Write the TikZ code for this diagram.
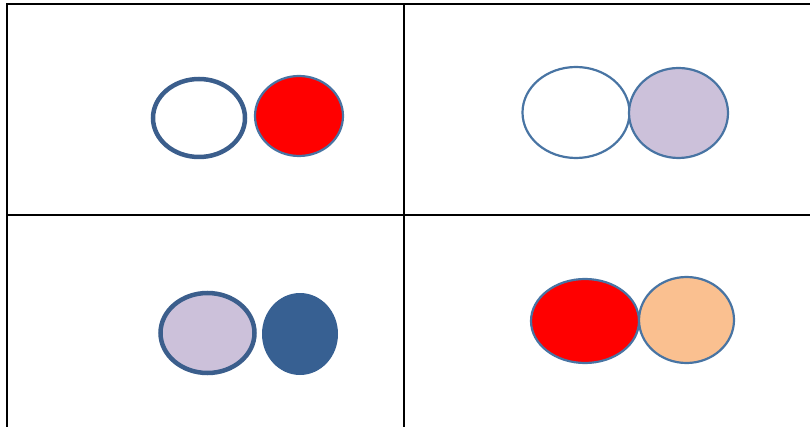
\documentclass[tikz,border=0pt]{standalone}
\usetikzlibrary{shapes.geometric}
\definecolor{rimblue}{HTML}{3B5E8C}
\definecolor{edgeblue}{HTML}{4874A3}
\definecolor{deepblue}{HTML}{376092}
\definecolor{lavender}{HTML}{CCC1DA}
\definecolor{peach}{HTML}{FAC090}
\begin{document}
\begin{tikzpicture}[
  x=1pt,y=-1pt,
  every path/.style={line width=1.5pt},
  oval/.style={ellipse,inner sep=0pt,draw=edgeblue,line width=2.2pt},
  thickoval/.style={oval,draw=rimblue,line width=4.5pt}]
  \useasboundingbox (0,0) rectangle (810,427);
  % table grid, cut by the page edges
  \draw (7,427)--(7,4)--(812,4) (404,4)--(404,427) (7,215)--(812,215);

  % top left
  \node[thickoval,minimum width=92pt,minimum height=78pt] (tlA) at (199,118) {};
  \node[oval,fill=red,minimum width=88pt,minimum height=80pt] (tlB) at (299,116) {};

  % top right
  \node[oval,minimum width=107pt,minimum height=91pt] (trA) at (576,112.5) {};
  \node[oval,fill=lavender,minimum width=99pt,minimum height=90pt] (trB) at (678.5,113) {};

  % bottom left
  \node[thickoval,fill=lavender,minimum width=94pt,minimum height=80pt] (blA) at (207.5,333) {};
  \node[ellipse,inner sep=0pt,fill=deepblue,minimum width=76pt,minimum height=82pt] (blB) at (300,334) {};

  % bottom right
  \node[oval,fill=red,minimum width=108pt,minimum height=84pt] (brA) at (585,321) {};
  \node[oval,fill=peach,minimum width=95pt,minimum height=86pt] (brB) at (686.5,320) {};
\end{tikzpicture}
\end{document}
